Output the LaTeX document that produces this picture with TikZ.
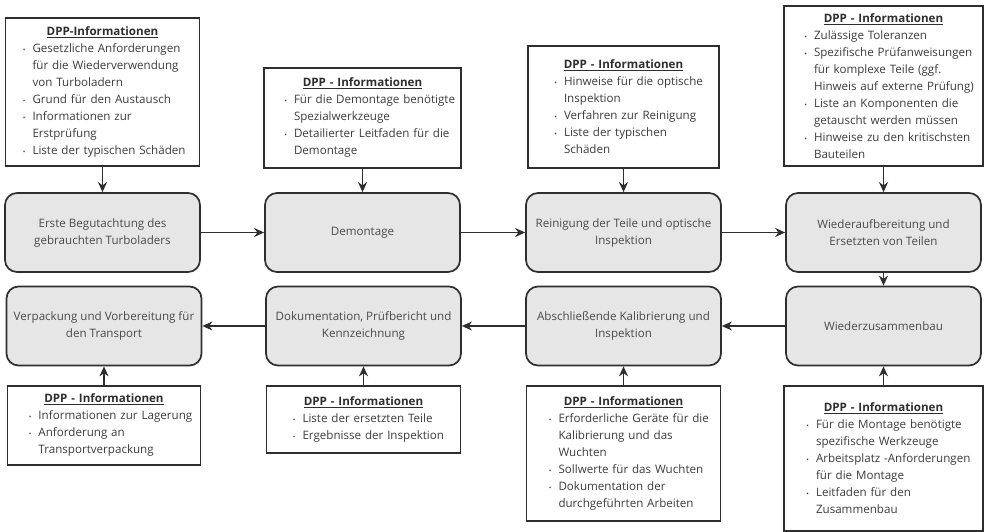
\documentclass[tikz,border=0pt]{standalone}
\usepackage{fontspec}
\setmainfont{Open Sans}
\usepackage{enumitem}
\usetikzlibrary{arrows.meta}
\definecolor{boxline}{HTML}{2E2E2E}
\definecolor{boxfill}{HTML}{E6E6E6}
\definecolor{proctext}{HTML}{4A4A4A}
\definecolor{dpptext}{HTML}{3C3C3C}
\newlist{dpplist}{itemize}{1}
\setlist[dpplist]{nosep,label={\scriptsize\textbullet},labelsep=7pt}
\newcommand{\dpptitle}[1]{{\centering\textcolor{boxline}{\textbf{\underline{#1}}}\par}}

\begin{document}
\begin{tikzpicture}[x=1pt, y=-1pt, >={Stealth[length=10pt,width=9pt]},
  proc/.style={draw=boxline, line width=1.7pt, fill=boxfill, rounded corners=12pt, align=center,
    minimum width=195pt, minimum height=79pt, text=proctext, font=\fontsize{11.6}{17}\selectfont},
  dpp/.style={draw=boxline, line width=1.7pt, fill=white, align=left, anchor=north, inner xsep=5pt,
    text=dpptext, font=\fontsize{11.6}{17}\selectfont},
  flow/.style={->, line width=1.6pt, boxline}]
\useasboundingbox (0,0) rectangle (984,532);
% process steps
\node[proc] (a) at (102.5,232.5) {Erste Begutachtung des\\gebrauchten Turboladers};
\node[proc] (b) at (362.5,232.5) {Demontage};
\node[proc] (c) at (623.5,232.5) {Reinigung der Teile und optische\\Inspektion};
\node[proc] (d) at (883.5,232.5) {Wiederaufbereitung und\\Ersetzten von Teilen};
\node[proc] (e) at (883.5,326) {Wiederzusammenbau};
\node[proc] (f) at (623.5,326) {Abschließende Kalibrierung und\\Inspektion};
\node[proc] (g) at (363.5,326) {Dokumentation, Prüfbericht und\\Kennzeichnung};
\node[proc] (h) at (104,326) {Verpackung und Vorbereitung für\\den Transport};
% DPP information
\node[dpp, text width=184pt, minimum height=148pt] (ia) at (102.5,17) {\dpptitle{DPP-Informationen}
  \begin{dpplist}[leftmargin=22pt]
  \item Gesetzliche Anforderungen\\für die Wiederverwendung\\von Turboladern
  \item Grund für den Austausch
  \item Informationen zur\\Erstprüfung
  \item Liste der typischen Schäden
  \end{dpplist}};
\node[dpp, text width=187pt, minimum height=100pt] (ib) at (362.5,67) {\dpptitle{DPP - Informationen}
  \begin{dpplist}[leftmargin=25pt]
  \item Für die Demontage benötigte\\Spezialwerkzeuge
  \item Detailierter Leitfaden für die\\Demontage
  \end{dpplist}};
\node[dpp, text width=181pt, minimum height=122pt] (ic) at (623.5,45) {\dpptitle{DPP - Informationen}
  \begin{dpplist}[leftmargin=31pt]
  \item Hinweise für die optische\\Inspektion
  \item Verfahren zur Reinigung
  \item Liste der typischen\\Schäden
  \end{dpplist}};
\node[dpp, text width=189pt, minimum height=160pt] (id) at (883.5,5) {\dpptitle{DPP - Informationen}
  \begin{dpplist}[leftmargin=25pt]
  \item Zulässige Toleranzen
  \item Spezifische Prüfanweisungen\\für komplexe Teile (ggf.\\Hinweis auf externe Prüfung)
  \item Liste an Komponenten die\\getauscht werden müssen
  \item Hinweise zu den kritischsten\\Bauteilen
  \end{dpplist}};
\node[dpp, text width=189pt, minimum height=145pt] (ie) at (883.5,385) {\dpptitle{DPP - Informationen}
  \begin{dpplist}[leftmargin=27pt]
  \item Für die Montage benötigte\\spezifische Werkzeuge
  \item Arbeitsplatz -Anforderungen\\für die Montage
  \item Leitfaden für den\\Zusammenbau
  \end{dpplist}};
\node[dpp, text width=184pt, minimum height=135pt] (if) at (623.5,385) {\dpptitle{DPP - Informationen}
  \begin{dpplist}[leftmargin=27pt]
  \item Erforderliche Geräte für die\\Kalibrierung und das\\Wuchten
  \item Sollwerte für das Wuchten
  \item Dokumentation der\\durchgeführten Arbeiten
  \end{dpplist}};
\node[dpp, text width=184pt, minimum height=67pt] (ig) at (363.5,385) {\dpptitle{DPP - Informationen}
  \begin{dpplist}[leftmargin=31pt]
  \item Liste der ersetzten Teile
  \item Ergebnisse der Inspektion
  \end{dpplist}};
\node[dpp, text width=183pt, minimum height=79pt] (ih) at (104,385) {\dpptitle{DPP - Informationen}
  \begin{dpplist}[leftmargin=26pt]
  \item Informationen zur Lagerung
  \item Anforderung an\\Transportverpackung
  \end{dpplist}};
% connectors
\draw[flow] (a) -- (b);
\draw[flow] (b) -- (c);
\draw[flow] (c) -- (d);
\draw[flow] (d) -- (e);
\draw[flow] (e) -- (f);
\draw[flow] (f) -- (g);
\draw[flow] (g) -- (h);
\draw[flow] (ia) -- (a);
\draw[flow] (ib) -- (b);
\draw[flow] (ic) -- (c);
\draw[flow] (id) -- (d);
\draw[flow] (ie) -- (e);
\draw[flow] (if) -- (f);
\draw[flow] (ig) -- (g);
\draw[flow] (ih) -- (h);
\end{tikzpicture}
\end{document}
